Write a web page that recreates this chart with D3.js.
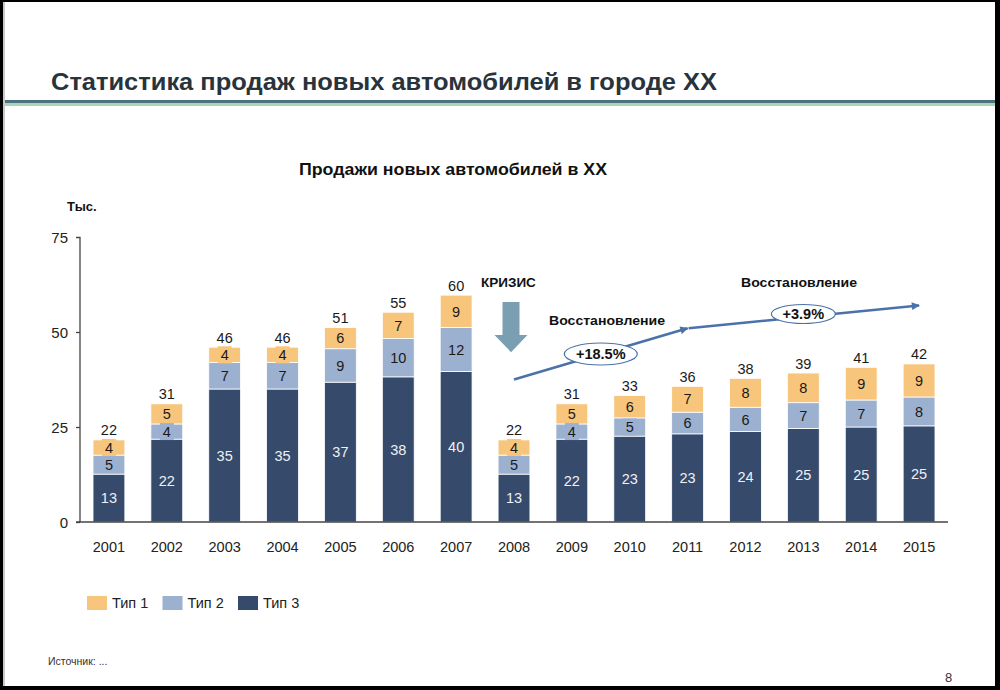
<!DOCTYPE html>
<html><head><meta charset="utf-8">
<script src="https://cdn.jsdelivr.net/npm/d3@7"></script>
<style>body{margin:0;background:#fff}svg{display:block}</style>
</head><body>
<svg id="c" width="1000" height="690"></svg>
<script>
// ---- data ----
const years = ["2001","2002","2003","2004","2005","2006","2007","2008","2009","2010","2011","2012","2013","2014","2015"];
const type3 = [12.6, 21.8, 35.0, 35.0, 36.8, 38.2, 39.6, 12.6, 21.8, 22.6, 23.2, 23.8, 24.6, 25.0, 25.3];
const type2 = [ 5.0,  4.0,  7.0,  7.0,  8.8, 10.1, 11.6,  5.0,  4.0,  4.8,  5.7,  6.4,  6.8,  7.1,  7.6];
const type1 = [ 4.0,  5.3,  4.0,  4.0,  5.6,  6.9,  8.5,  4.0,  5.3,  5.9,  6.8,  7.6,  7.8,  8.6,  8.7];
const seriesNames = ["Тип 1", "Тип 2", "Тип 3"];
const yTicks = [0, 25, 50, 75];
const growth = ["+18.5%", "+3.9%"];

const colors = {"Тип 1": "#f7c57b", "Тип 2": "#9cb0d0", "Тип 3": "#364a6b"};
const FONT = "'Liberation Sans', Arial, sans-serif";
const NARROW = "'Liberation Sans Narrow', 'Arial Narrow', 'Liberation Sans', sans-serif";

const svg = d3.select("#c");
svg.append("rect").attr("width",1000).attr("height",690).attr("fill","#fff");

// header
svg.append("text").attr("x",51).attr("y",90)
  .attr("font-family",NARROW).attr("font-weight","bold").attr("font-size",23)
  .attr("fill","#28333c").attr("textLength",666).attr("lengthAdjust","spacingAndGlyphs")
  .text("Статистика продаж новых автомобилей в городе XX");
svg.append("rect").attr("x",5).attr("y",100).attr("width",995).attr("height",3).attr("fill","#4d7282");
svg.append("rect").attr("x",5).attr("y",103).attr("width",995).attr("height",3).attr("fill","#a9d5b4");

// chart title
svg.append("text").attr("x",453).attr("y",175).attr("text-anchor","middle")
  .attr("font-family",FONT).attr("font-weight","bold").attr("font-size",16.5).attr("fill","#111")
  .attr("textLength",308).attr("lengthAdjust","spacingAndGlyphs")
  .text("Продажи новых автомобилей в XX");
svg.append("text").attr("x",67).attr("y",211)
  .attr("font-family",FONT).attr("font-weight","bold").attr("font-size",13).attr("fill","#111")
  .text("Тыс.");

// scales
const x = d3.scaleBand().domain(years).range([80, 948]).paddingInner(0.45).paddingOuter(0.225);
const y = d3.scaleLinear().domain([0, 75]).range([522, 237]);
const xc = d => x(d) + x.bandwidth()/2;

// stacked data
const rows = years.map((yr, i) => ({year: yr, "Тип 3": type3[i], "Тип 2": type2[i], "Тип 1": type1[i]}));
const stack = d3.stack().keys(["Тип 3", "Тип 2", "Тип 1"]);
const layers = stack(rows);

const g = svg.append("g");
layers.forEach(layer => {
  const key = layer.key;
  const lg = g.append("g");
  lg.selectAll("rect.bar").data(layer).join("rect").attr("class","bar")
    .attr("x", d => x(d.data.year))
    .attr("width", x.bandwidth())
    .attr("y", d => y(d[1]))
    .attr("height", d => y(d[0]) - y(d[1]))
    .attr("fill", colors[key])
    .attr("stroke", "#fff").attr("stroke-width", 0.8);
});
layers.forEach(layer => {
  const key = layer.key;
  const lg = g.append("g");
  if (key !== "Тип 3") {
    lg.selectAll("rect.lbg").data(layer).join("rect").attr("class","lbg")
      .attr("x", d => xc(d.data.year) - 7)
      .attr("width", 14)
      .attr("y", d => (y(d[0]) + y(d[1]))/2 - 8.5)
      .attr("height", 17)
      .attr("fill", colors[key]);
  }
  lg.selectAll("text").data(layer).join("text")
    .attr("x", d => xc(d.data.year))
    .attr("y", d => (y(d[0]) + y(d[1]))/2)
    .attr("dy", "0.36em")
    .attr("text-anchor","middle")
    .attr("font-family",FONT).attr("font-size",14.5)
    .attr("fill", key === "Тип 3" ? "#eef1f6" : "#1a1a1a")
    .text(d => Math.round(d.data[key]));
});
// totals
g.selectAll("text.tot").data(rows).join("text").attr("class","tot")
  .attr("x", d => xc(d.year))
  .attr("y", d => y(d["Тип 1"] + d["Тип 2"] + d["Тип 3"]) - 4.5)
  .attr("text-anchor","middle")
  .attr("font-family",FONT).attr("font-size",14.5).attr("fill","#1a1a1a")
  .text(d => Math.round(d["Тип 1"] + d["Тип 2"] + d["Тип 3"]));

// axes
const yAxis = svg.append("g").attr("transform","translate(80,0)")
  .call(d3.axisLeft(y).tickValues(yTicks).tickSize(4).tickPadding(8));
yAxis.select(".domain").attr("stroke","#444").attr("stroke-width",1.3).attr("d","M-4,237.5H0V522");
yAxis.selectAll(".tick line").attr("stroke","#444").attr("stroke-width",1.3);
yAxis.selectAll(".tick text").attr("font-family",FONT).attr("font-size",15).attr("fill","#222").attr("dy","0.36em");
yAxis.selectAll(".tick").filter(d => d === 75).select("line").remove();

const xAxis = svg.append("g").attr("transform","translate(0,522)")
  .call(d3.axisBottom(x).tickSize(0).tickPadding(20));
xAxis.select(".domain").attr("stroke","#444").attr("stroke-width",1.3).attr("d","M76,0H948");
xAxis.selectAll(".tick text").attr("font-family",FONT).attr("font-size",14.5).attr("fill","#222");

// legend
const leg = svg.append("g");
seriesNames.forEach((s, i) => {
  const lx = 87 + i * 75.5;
  leg.append("rect").attr("x", lx).attr("y", 596).attr("width", 20).attr("height", 14).attr("fill", colors[s]);
  leg.append("text").attr("x", lx + 25).attr("y", 608)
    .attr("font-family",FONT).attr("font-size",14.5).attr("fill","#222").text(s);
});

// annotations: crisis
const cx = xc("2008") - 3;
svg.append("text").attr("x", xc("2008") - 33).attr("y", 287)
  .attr("font-family",FONT).attr("font-weight","bold").attr("font-size",13.5).attr("fill","#111")
  .text("КРИЗИС");
const aTop = y(57.9), aNeck = y(49.2), aTip = y(44.7);
svg.append("path")
  .attr("d", `M${cx-8.5},${aTop}H${cx+8.5}V${aNeck}H${cx+16.5}L${cx},${aTip}L${cx-16.5},${aNeck}H${cx-8.5}Z`)
  .attr("fill","#7a9fb3");

// recovery arrows
const defs = svg.append("defs");
defs.append("marker").attr("id","ah").attr("viewBox","0 0 10 10").attr("refX",9).attr("refY",5)
  .attr("markerWidth",10).attr("markerHeight",8).attr("markerUnits","userSpaceOnUse")
  .attr("orient","auto").append("path").attr("d","M0,0L10,5L0,10Z").attr("fill","#4a72a8");
const p0 = [xc("2008"), y(37.5)], p1 = [xc("2011"), y(51.0)], p2 = [xc("2015"), y(57.0)];
svg.append("line").attr("x1",p0[0]).attr("y1",p0[1]).attr("x2",p1[0]).attr("y2",p1[1])
  .attr("stroke","#4a72a8").attr("stroke-width",2.5).attr("marker-end","url(#ah)");
svg.append("line").attr("x1",p1[0]+1).attr("y1",p1[1]).attr("x2",p2[0]).attr("y2",p2[1])
  .attr("stroke","#4a72a8").attr("stroke-width",2.5).attr("marker-end","url(#ah)");

const e1 = [(xc("2009")+xc("2010"))/2, 354], e2 = [xc("2013"), 314];
svg.append("ellipse").attr("cx",e1[0]).attr("cy",e1[1]).attr("rx",36.5).attr("ry",11)
  .attr("fill","#fff").attr("stroke","#4a72a8").attr("stroke-width",1.2);
svg.append("text").attr("x",e1[0]).attr("y",e1[1]).attr("dy","0.36em").attr("text-anchor","middle")
  .attr("font-family",FONT).attr("font-weight","bold").attr("font-size",14.5).attr("fill","#111").text(growth[0]);
svg.append("ellipse").attr("cx",e2[0]).attr("cy",e2[1]).attr("rx",32).attr("ry",9.5)
  .attr("fill","#fff").attr("stroke","#4a72a8").attr("stroke-width",1.2);
svg.append("text").attr("x",e2[0]).attr("y",e2[1]).attr("dy","0.36em").attr("text-anchor","middle")
  .attr("font-family",FONT).attr("font-weight","bold").attr("font-size",14.5).attr("fill","#111").text(growth[1]);

svg.append("text").attr("x",549).attr("y",325)
  .attr("font-family",FONT).attr("font-weight","bold").attr("font-size",13.5).attr("fill","#111")
  .attr("textLength",116).attr("lengthAdjust","spacingAndGlyphs").text("Восстановление");
svg.append("text").attr("x",741).attr("y",287)
  .attr("font-family",FONT).attr("font-weight","bold").attr("font-size",13.5).attr("fill","#111")
  .attr("textLength",116).attr("lengthAdjust","spacingAndGlyphs").text("Восстановление");

// footer
svg.append("text").attr("x",48).attr("y",665)
  .attr("font-family",NARROW).attr("font-size",10.5).attr("fill","#333").text("Источник: ...");
svg.append("text").attr("x",945).attr("y",682)
  .attr("font-family",NARROW).attr("font-size",13).attr("fill","#333").text("8");

// frame
svg.append("rect").attr("x",0).attr("y",0).attr("width",1000).attr("height",2).attr("fill","#000");
svg.append("rect").attr("x",0).attr("y",0).attr("width",3).attr("height",690).attr("fill","#000");
svg.append("rect").attr("x",3).attr("y",2).attr("width",2).attr("height",686).attr("fill","#c8c8c8");
svg.append("rect").attr("x",995).attr("y",0).attr("width",5).attr("height",690).attr("fill","#000");
svg.append("rect").attr("x",0).attr("y",686).attr("width",1000).attr("height",4).attr("fill","#000");
</script>
</body></html>
